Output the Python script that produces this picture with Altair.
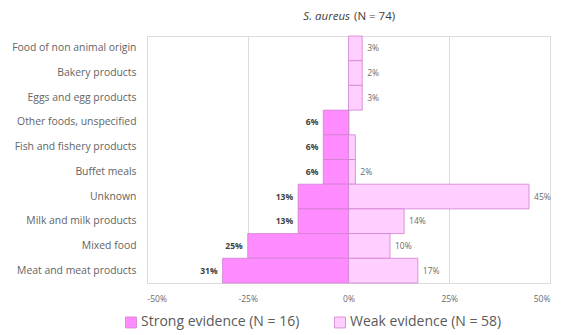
import altair as alt
import pandas as pd

categories = [
    "Food of non animal origin",
    "Bakery products",
    "Eggs and egg products",
    "Other foods, unspecified",
    "Fish and fishery products",
    "Buffet meals",
    "Unknown",
    "Milk and milk products",
    "Mixed food",
    "Meat and meat products",
]
strong_values = [0, 0, 0, 6.25, 6.25, 6.25, 12.5, 12.5, 25.0, 31.25]
strong_labels = ["", "", "", "6%", "6%", "6%", "13%", "13%", "25%", "31%"]
weak_values = [3.4, 3.4, 3.4, 0, 1.7, 1.7, 44.8, 13.8, 10.3, 17.2]
weak_labels = ["3%", "2%", "3%", "", "", "2%", "45%", "14%", "10%", "17%"]
groups = ["Strong evidence (N = 16)", "Weak evidence (N = 58)"]
x_ticks = [-50, -25, 0, 25, 50]

rows = []
for i, c in enumerate(categories):
    rows.append({"cat": c, "group": groups[0], "val": -strong_values[i], "label": strong_labels[i]})
    rows.append({"cat": c, "group": groups[1], "val": weak_values[i], "label": weak_labels[i]})
df = pd.DataFrame(rows)

FONT = "Open Sans"

y_enc = alt.Y("cat:N", sort=categories, title=None,
              scale=alt.Scale(paddingInner=0, paddingOuter=0),
              axis=alt.Axis(domain=False, ticks=False, grid=False, labelFont=FONT,
                            labelFontSize=10.4, labelColor="#646464", labelPadding=11,
                            labelLimit=200))
x_enc = alt.X("val:Q", title=None,
              scale=alt.Scale(domain=[-50, 50], nice=False),
              axis=alt.Axis(values=x_ticks, labelExpr="datum.value + '%'", domain=False,
                            ticks=False, grid=True, gridColor="#dcdcdc", gridWidth=1,
                            labelFont=FONT, labelFontSize=8.5, labelColor="#6a6a6a",
                            labelPadding=11))

bars = alt.Chart(df).transform_filter("datum.val != 0").mark_bar(
    stroke="#d17fd1", strokeWidth=0.8
).encode(
    x=x_enc,
    y=y_enc,
    color=alt.Color("group:N", scale=alt.Scale(domain=groups, range=["#ff8cff", "#ffd0ff"]),
                    legend=alt.Legend(title=None, orient="none", direction="horizontal",
                                      legendX=-23, legendY=279, symbolType="square",
                                      symbolSize=120, symbolStrokeColor="#d17fd1",
                                      symbolStrokeWidth=0.8, labelFont=FONT,
                                      labelFontSize=14, labelColor="#5a5a5a",
                                      columnPadding=32, labelOffset=3)),
)

strong_text = alt.Chart(df).transform_filter(
    "datum.val < 0 && datum.label != ''"
).mark_text(align="right", baseline="middle", dx=-5, font=FONT, fontSize=8.5,
            fontWeight="bold", color="#404040").encode(
    x=alt.X("val:Q"), y=alt.Y("cat:N", sort=categories), text="label:N")

weak_text = alt.Chart(df).transform_filter(
    "datum.val > 0 && datum.label != ''"
).mark_text(align="left", baseline="middle", dx=5, font=FONT, fontSize=8.5,
            color="#6a6a6a").encode(
    x=alt.X("val:Q"), y=alt.Y("cat:N", sort=categories), text="label:N")

title_df = pd.DataFrame({"a": [0]})
title_it = alt.Chart(title_df).mark_text(
    align="right", baseline="middle", font=FONT, fontSize=11.5, fontStyle="italic",
    color="#404040", text="S. aureus"
).encode(x=alt.value(203), y=alt.value(-19))
title_rest = alt.Chart(title_df).mark_text(
    align="left", baseline="middle", font=FONT, fontSize=11.5, dx=4,
    color="#404040", text="(N = 74)"
).encode(x=alt.value(203), y=alt.value(-19))

chart = alt.layer(bars, strong_text, weak_text, title_it, title_rest).properties(
    width=403, height=247,
    autosize=alt.AutoSizeParams(type="none"),
    padding={"left": 139, "top": 28, "right": 4, "bottom": 52},
).configure_view(stroke=None).configure(background="white")

chart.save("out.html", embed_options={"renderer": "svg", "actions": False})
